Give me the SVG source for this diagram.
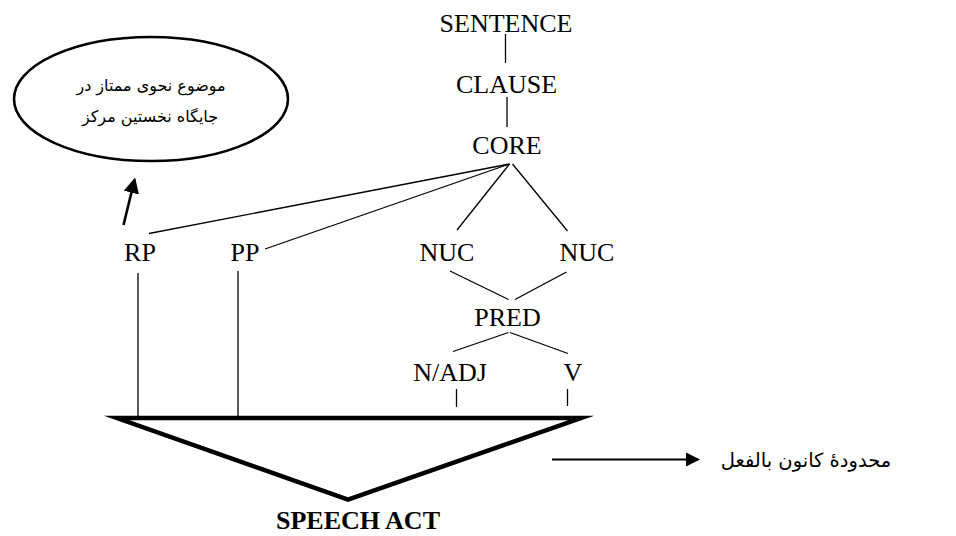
<svg xmlns="http://www.w3.org/2000/svg" width="956" height="536" viewBox="0 0 956 536">
<style>
.t{font-family:"Liberation Serif","Times New Roman",serif;font-size:26px;fill:#000;text-anchor:middle}
.b{font-weight:bold}
.fa{font-family:"DejaVu Sans","Noto Sans",sans-serif;fill:#000;text-anchor:middle}
.ln{stroke:#000;stroke-width:1.3;fill:none}
.thick{stroke:#000;stroke-width:2.6;fill:none}
</style>
<defs>
<marker id="ah" markerWidth="6" markerHeight="6" refX="5" refY="3" orient="auto" markerUnits="strokeWidth"><path d="M0,0 L6,3 L0,6 Z" fill="#000"/></marker>
<marker id="ah2" markerWidth="7" markerHeight="7" refX="6" refY="3.5" orient="auto" markerUnits="strokeWidth"><path d="M0,0 L7,3.5 L0,7 Z" fill="#000"/></marker>
</defs>
<rect width="956" height="536" fill="#fff"/>
<g id="sentence"><text class="t" x="506" y="32">SENTENCE</text></g>
<g id="clause"><text class="t" x="506.5" y="93">CLAUSE</text></g>
<g id="core"><text class="t" x="507" y="154">CORE</text></g>
<g id="rp"><text class="t" x="140" y="261">RP</text></g>
<g id="pp"><text class="t" x="245" y="261">PP</text></g>
<g id="nuc1"><text class="t" x="447" y="261">NUC</text></g>
<g id="nuc2"><text class="t" x="587" y="261">NUC</text></g>
<g id="pred"><text class="t" x="507.5" y="326">PRED</text></g>
<g id="nadj"><text class="t" x="450" y="381">N/ADJ</text></g>
<g id="v"><text class="t" x="573" y="381">V</text></g>
<g id="topic">
<ellipse cx="151" cy="99" rx="137" ry="62" fill="none" stroke="#000" stroke-width="2.6"/>
<text class="fa" x="151" y="91" font-size="16" direction="rtl">موضوع نحوی ممتاز در</text>
<text class="fa" x="150" y="122" font-size="16" direction="rtl">جایگاه نخستین مرکز</text>
</g>
<g id="speechact">
<polygon points="117,418 581,418 348,499.5" fill="none" stroke="#000" stroke-width="4.5" stroke-miterlimit="8"/>
<text class="t b" x="358" y="529" font-size="25">SPEECH ACT</text>
</g>
<g id="focus"><text class="fa" x="806" y="467" font-size="19.5" direction="rtl">محدودۀ کانون بالفعل</text></g>
<g id="connectors">
<line class="ln" x1="505.5" y1="34" x2="505.5" y2="63"/>
<line class="ln" x1="507" y1="97" x2="507" y2="127"/>
<line class="ln" x1="509.5" y1="164" x2="149" y2="233.5"/>
<line class="ln" x1="509.5" y1="164" x2="265" y2="249"/>
<line class="ln" x1="509.5" y1="164" x2="457" y2="230"/>
<line class="ln" x1="512.5" y1="164" x2="567.5" y2="231"/>
<line class="ln" x1="450" y1="271" x2="508.5" y2="299.5"/>
<line class="ln" x1="566.5" y1="272" x2="515" y2="299.5"/>
<line class="ln" x1="508.5" y1="332.5" x2="453" y2="351.5"/>
<line class="ln" x1="510" y1="332.5" x2="568" y2="353.5"/>
<line class="ln" x1="138" y1="273" x2="138" y2="416"/>
<line class="ln" x1="238" y1="271" x2="238" y2="416"/>
<line class="ln" x1="456.5" y1="389" x2="456.5" y2="407"/>
<line class="ln" x1="567.5" y1="389" x2="567.5" y2="406"/>
<line class="thick" x1="123.5" y1="225" x2="134.5" y2="180" marker-end="url(#ah)"/>
<line stroke="#000" stroke-width="2" x1="552" y1="459.5" x2="698" y2="459.5" marker-end="url(#ah2)"/>
</g>
</svg>
